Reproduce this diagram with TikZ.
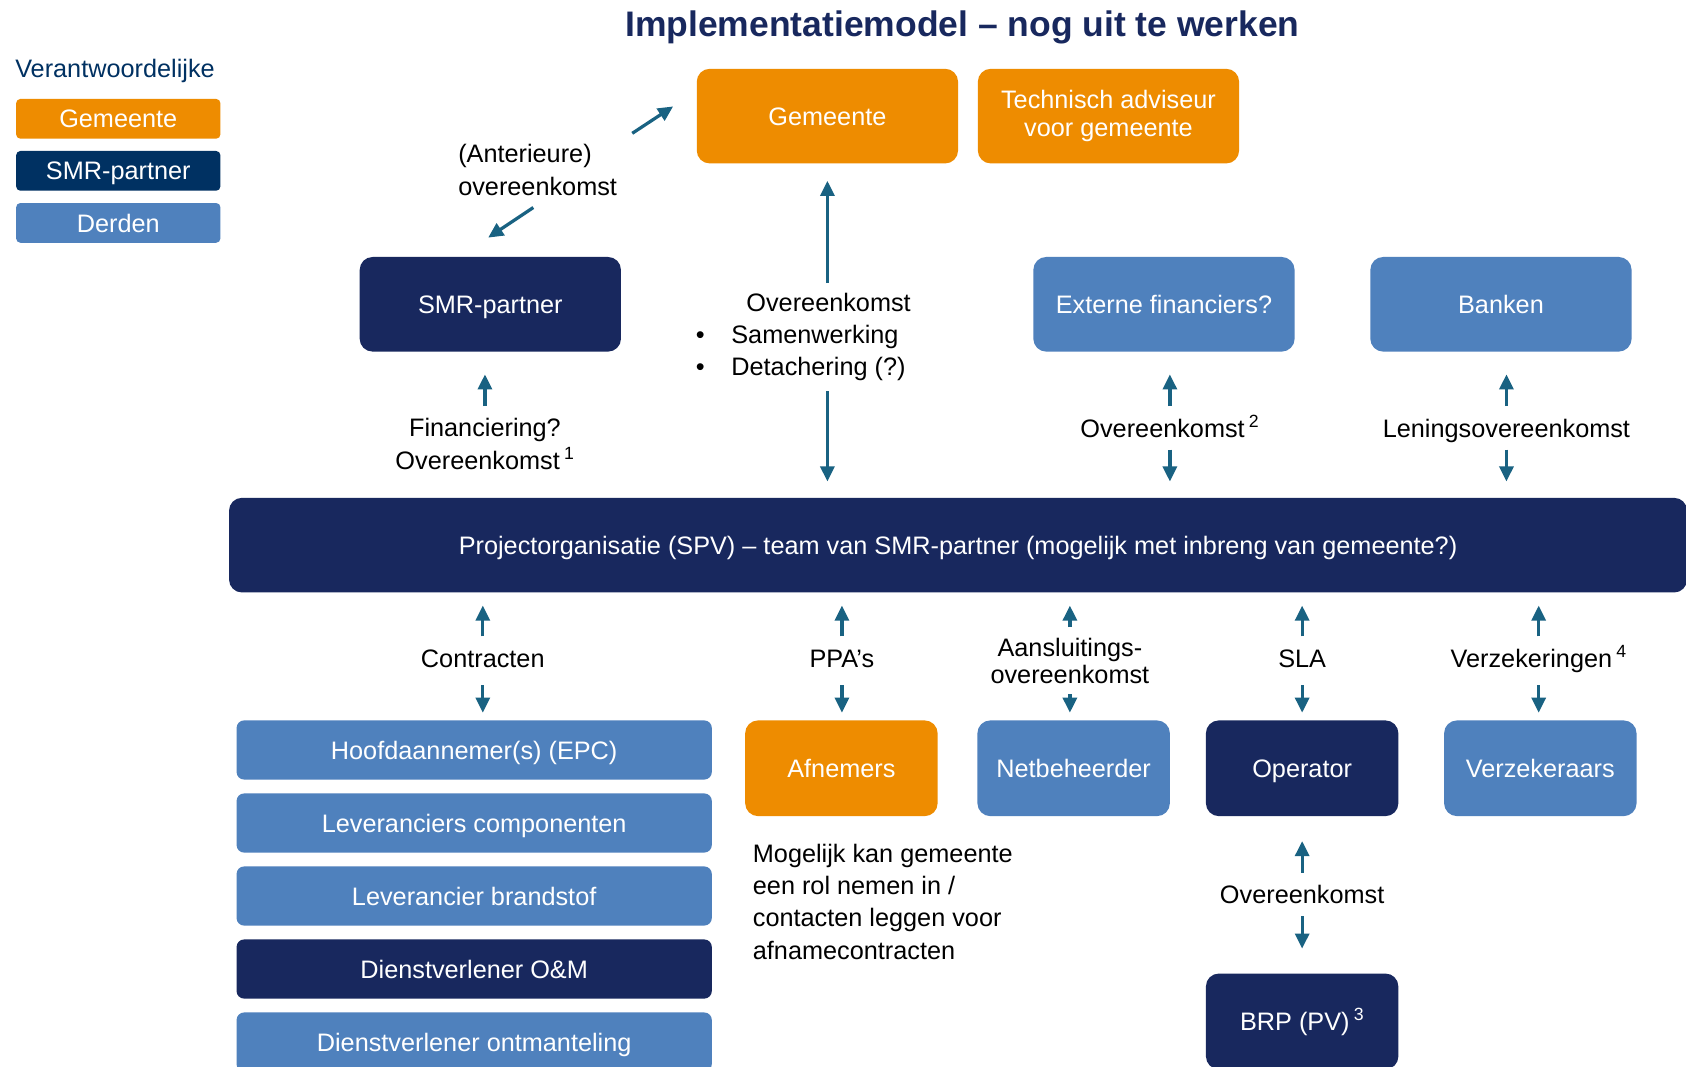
\documentclass[tikz,border=0pt]{standalone}
\usepackage{fontspec}
\setmainfont{Liberation Sans}
\usepackage{xcolor}
\usepackage{tikz}
\usetikzlibrary{arrows.meta, positioning}
\definecolor{imorange}{RGB}{238,140,0}
\definecolor{imnavy}{RGB}{24,40,94}
\definecolor{imblue}{RGB}{79,129,189}
\definecolor{imlegnavy}{RGB}{0,49,98}
\definecolor{imarrow}{RGB}{25,98,130}
\newcommand{\imfont}{\fontsize{23.5}{30}\selectfont}

\begin{document}
\begin{tikzpicture}[
    x=1pt, y=-1pt,
    font=\imfont,
    one/.style={text height=17pt, text depth=0pt},
    box/.style={rounded corners=12pt, text=white, inner sep=0pt, align=center, minimum width=243pt, minimum height=88pt, font=\fontsize{23.5}{26}\selectfont},
    gembox/.style={box, one, fill=imorange},
    smrbox/.style={box, one, fill=imnavy},
    derdebox/.style={box, one, fill=imblue},
    small/.style={minimum width=179pt, minimum height=89pt},
    stack/.style={rounded corners=7pt, minimum width=442pt, minimum height=55pt},
    legend/.style={rounded corners=4pt, one, text=white, inner sep=0pt, minimum width=190pt, minimum height=37pt},
    tag/.style={inner sep=0pt, align=center, minimum height=40pt},
    tag2/.style={tag, minimum height=70pt},
    conn/.style={-{Triangle[length=14pt, width=13pt]}, line width=3pt, draw=imarrow}
]
\path[fill=white, use as bounding box] (0,0) rectangle (1568,992);
\clip (0,0) rectangle (1568,992);

\node[font=\fontsize{33}{40}\selectfont\bfseries, text=imnavy, text height=23.6pt, text depth=0pt] (title) at (895,22) {Implementatiemodel – nog uit te werken};

% legend
\node[anchor=west, inner sep=0pt, one, text=imlegnavy] (resp) at (14,64) {Verantwoordelijke};
\node[legend, fill=imorange] (leggem) at (110,110.5) {Gemeente};
\node[legend, fill=imlegnavy, below=11pt of leggem] (legsmr) {SMR-partner};
\node[legend, fill=imblue, below=11pt of legsmr] (legder) {Derden};

% parties
\node[gembox] (gem) at (769.5,108) {Gemeente};
\node[box, fill=imorange, right=18pt of gem] (adv) {Technisch adviseur\\voor gemeente};
\node[smrbox] (smr) at (456,283) {SMR-partner};
\node[derdebox] (ext) at (1082.5,283) {Externe financiers?};
\node[derdebox, right=70pt of ext] (bank) {Banken};
\node[smrbox, minimum width=1356pt] (spv) at (891,507) {Projectorganisatie (SPV) – team van SMR-partner (mogelijk met inbreng van gemeente?)};

\node[derdebox, stack] (epc) at (441,697.5) {Hoofdaannemer(s) (EPC)};
\node[derdebox, stack, below=12.5pt of epc] (comp) {Leveranciers componenten};
\node[derdebox, stack, below=12.5pt of comp] (fuel) {Leverancier brandstof};
\node[smrbox, stack, below=12.5pt of fuel] (om) {Dienstverlener O\&M};
\node[derdebox, stack, below=12.5pt of om] (decom) {Dienstverlener ontmanteling};
\node[gembox, small] (afn) at (782.5,714.5) {Afnemers};
\node[derdebox, small] (net) at (998.5,714.5) {Netbeheerder};
\node[smrbox, small] (op) at (1211,714.5) {Operator};
\node[derdebox, small] (verz) at (1432.5,714.5) {Verzekeraars};
\node[smrbox, small, below=146pt of op] (brp) {BRP (PV)\,\textsuperscript{3}};

% agreements
\node[tag2, anchor=west, align=left] (ante) at (426,158) {(Anterieure)\\overeenkomst};
\node[tag, minimum height=100pt, anchor=west, align=left] (ovk) at (647,313.5) {\hspace*{47pt}Overeenkomst\\\makebox[33pt][l]{\textbullet}Samenwerking\\\makebox[33pt][l]{\textbullet}Detachering (?)};
\node[tag2] (fin) at (451,413) {Financiering?\\Overeenkomst\,\textsuperscript{1}};
\node[tag, one] (ovkext) at (1088,398) {Overeenkomst\,\textsuperscript{2}};
\node[tag, one] (loan) at (1401,398) {Leningsovereenkomst};
\node[tag, one] (contr) at (449,612) {Contracten};
\node[tag, one] (ppa) at (783,612) {PPA’s};
\node[tag, minimum height=58pt, font=\fontsize{23.5}{25}\selectfont] (aansl) at (995,614.5) {Aansluitings-\\overeenkomst};
\node[tag, one] (sla) at (1211,612) {SLA};
\node[tag, one] (ins) at (1431,612) {Verzekeringen\,\textsuperscript{4}};
\node[tag, one] (ovkbrp) at (1211,832) {Overeenkomst};
\node[anchor=west, align=left, inner sep=0pt] (note) at (700,838.5) {Mogelijk kan gemeente\\een rol nemen in /\\contacten leggen voor\\afnamecontracten};

\coordinate (ante-a) at (588,124);
\coordinate (ante-b) at (626,99);
\coordinate (ante-c) at (496,193);
\coordinate (ante-d) at (454,221);
\draw[conn] (ante-a) -- (ante-b);
\draw[conn] (ante-c) -- (ante-d);

\draw[conn, shorten >=16pt] (gem.south |- ovk.north) -- (gem.south);
\draw[conn, shorten >=15pt] (gem.south |- ovk.south) -- (gem.south |- spv.north);
\draw[conn, shorten >=21pt] (fin.north) -- (fin.north |- smr.south);
\draw[conn, shorten >=21pt] (ovkext.north) -- (ovkext.north |- ext.south);
\draw[conn, shorten >=15pt] (ovkext.south) -- (ovkext.south |- spv.north);
\draw[conn, shorten >=21pt] (loan.north) -- (loan.north |- bank.south);
\draw[conn, shorten >=15pt] (loan.south) -- (loan.south |- spv.north);

\draw[conn, shorten >=12pt] (contr.north) -- (contr.north |- spv.south);
\draw[conn, shorten <=5pt, shorten >=7pt] (contr.south) -- (contr.south |- epc.north);
\draw[conn, shorten >=12pt] (ppa.north) -- (ppa.north |- spv.south);
\draw[conn, shorten <=5pt, shorten >=7pt] (ppa.south) -- (ppa.south |- afn.north);
\draw[conn, shorten <=2pt, shorten >=12pt] (aansl.north) -- (aansl.north |- spv.south);
\draw[conn, shorten <=2pt, shorten >=7pt] (aansl.south) -- (aansl.south |- net.north);
\draw[conn, shorten >=12pt] (sla.north) -- (sla.north |- spv.south);
\draw[conn, shorten <=5pt, shorten >=7pt] (sla.south) -- (sla.south |- op.north);
\draw[conn, shorten >=12pt] (ins.north) -- (ins.north |- spv.south);
\draw[conn, shorten <=5pt, shorten >=7pt] (ins.south) -- (ins.south |- verz.north);
\draw[conn, shorten >=23pt] (ovkbrp.north) -- (ovkbrp.north |- op.south);
\draw[conn, shorten >=23pt] (ovkbrp.south) -- (ovkbrp.south |- brp.north);
\end{tikzpicture}
\end{document}
